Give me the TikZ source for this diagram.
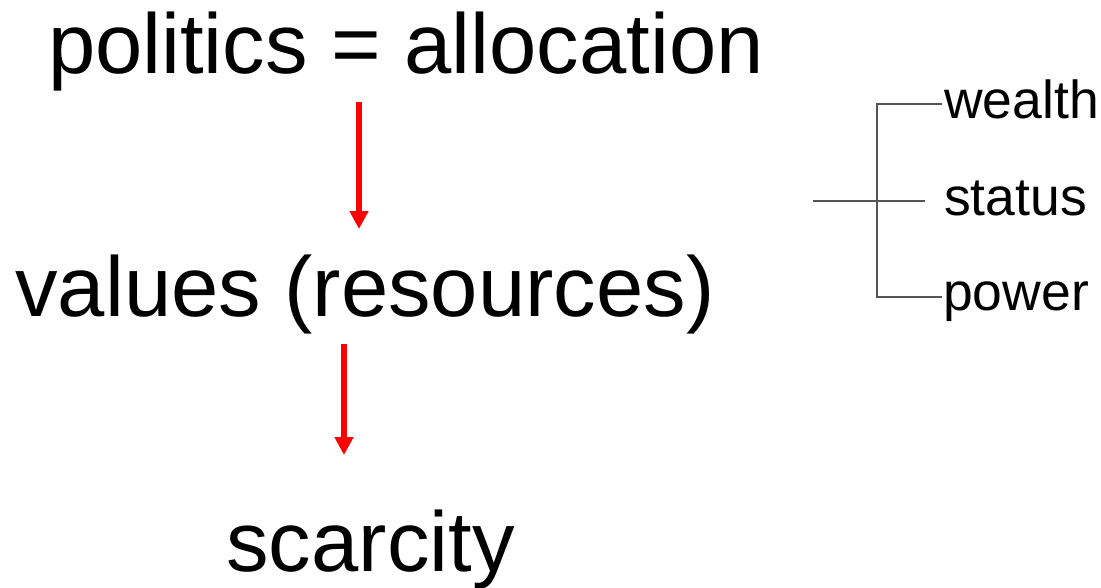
\documentclass[tikz,border=0pt]{standalone}
\usepackage{fontspec}
\setmainfont{Liberation Sans}
\usetikzlibrary{arrows.meta}
\definecolor{brk}{HTML}{555555}
\tikzset{
  big/.style={font=\fontsize{85}{100}\selectfont, inner sep=0pt, anchor=base},
  small/.style={font=\fontsize{53.5}{60}\selectfont, inner sep=0pt, anchor=base west},
  redarrow/.style={draw=red, line width=6pt, -{Triangle[width=18pt,length=18pt]}},
  bracket/.style={draw=brk, line width=2pt}
}
\begin{document}
\begin{tikzpicture}[x=1pt,y=-1pt]
\useasboundingbox (0,0) rectangle (1101,587);
\node[big] (pol) at (406,73) {politics = allocation};
\node[big] (val) at (365,316) {values (resources)};
\node[big] (sca) at (370.5,571) {scarcity};
\node[small] (wea) at (944,118) {wealth};
\node[small] (sta) at (944,215) {status};
\node[small] (pow) at (943,310) {power};
\coordinate (a1s) at (359,102);
\coordinate (a1e) at (359,229);
\coordinate (a2s) at (344,344);
\coordinate (a2e) at (344,455);
\draw[redarrow] (a1s) -- (a1e);
\draw[redarrow] (a2s) -- (a2e);
\coordinate (bl) at (813,201);
\coordinate (br) at (925,201);
\coordinate (bt) at (942,104);
\coordinate (bb) at (942,297);
\draw[bracket] (bl) -- (br);
\draw[bracket] (bt) -- (877,104) -- (877,297) -- (bb);
\end{tikzpicture}
\end{document}
